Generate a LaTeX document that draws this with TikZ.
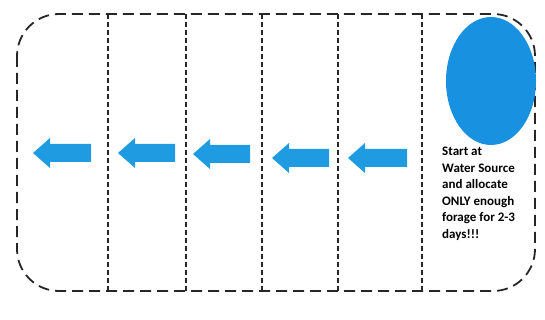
\documentclass[tikz,border=0pt]{standalone}
\usepackage{fontspec}
\newfontfamily\carl{Carlito}
\usetikzlibrary{shapes.geometric}
\definecolor{arrowblue}{RGB}{30,155,225}
\definecolor{discblue}{RGB}{25,145,225}
\tikzset{
  frame/.style={draw=black!85, line width=1.8pt, dash pattern=on 11pt off 6pt, rounded corners=42pt},
  divider/.style={draw=black!85, line width=1.4pt, dash pattern=on 5pt off 3pt},
  blockarrow/.style={fill=arrowblue, draw=none},
  note/.style={align=left, anchor=north west, font=\carl\bfseries\fontsize{13}{16.5}\selectfont, inner sep=0pt}
}
% left-pointing block arrow: tip x, tail x, centre y
\newcommand{\leftblock}[3]{%
  \fill[blockarrow] (#1,#3) -- (#1+17,#3-15) -- (#1+17,#3-9) -- (#2,#3-9)
    -- (#2,#3+9) -- (#1+17,#3+9) -- (#1+17,#3+15) -- cycle;}
\begin{document}
\begin{tikzpicture}[x=1pt,y=-1pt]
\useasboundingbox (0,0) rectangle (545,320);
\draw[frame] (17,14) rectangle (535,291);
\foreach \x in {108,186,262,338,422}
  \draw[divider] (\x,14) -- (\x,291);
\node[fill=discblue, ellipse, minimum width=90pt, minimum height=128pt, inner sep=0pt] (src) at (491,81) {};
\leftblock{33}{91}{153}
\leftblock{118}{175}{153}
\leftblock{193}{250}{154}
\leftblock{272}{329}{158}
\leftblock{348}{407}{158}
\node[note] (txt) at (442,147) {Start at\\Water Source\\and allocate\\ONLY enough\\forage for 2-3\\days!!!};
\end{tikzpicture}
\end{document}
